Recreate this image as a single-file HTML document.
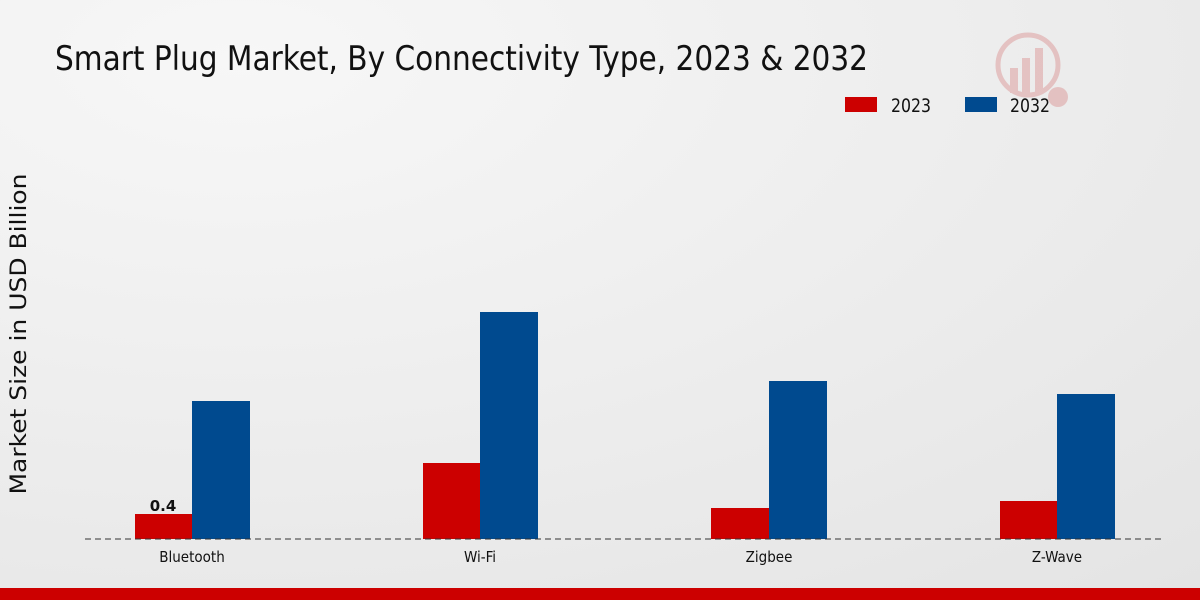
<!DOCTYPE html>
<html><head><style>html,body{margin:0;padding:0;width:1200px;height:600px;overflow:hidden}</style></head>
<body>
<svg width="1200" height="600" xmlns="http://www.w3.org/2000/svg" font-family="'Liberation Sans Narrow','DejaVu Sans Condensed','Liberation Sans',sans-serif">
<defs><radialGradient id="bg" cx="0.2" cy="0.1" r="1.2"><stop offset="0" stop-color="#f7f7f7"/><stop offset="1" stop-color="#e4e4e4"/></radialGradient></defs>
<rect width="1200" height="600" fill="url(#bg)"/>
<text x="55" y="70" font-size="34" fill="#111" textLength="813" lengthAdjust="spacingAndGlyphs">Smart Plug Market, By Connectivity Type, 2023 &amp; 2032</text>
<g opacity="0.25" fill="#c44">
<circle cx="1028" cy="65" r="30" fill="none" stroke="#c44" stroke-width="5"/>
<rect x="1010" y="68" width="8" height="25"/><rect x="1022" y="58" width="8" height="35"/><rect x="1035" y="48" width="8" height="45"/>
<circle cx="1058" cy="97" r="10"/>
</g>
<rect x="845" y="97" width="32" height="15" fill="#cc0000"/>
<text x="891" y="112" font-size="19" fill="#111" textLength="40" lengthAdjust="spacingAndGlyphs">2023</text>
<rect x="965" y="97" width="32" height="15" fill="#004a8f"/>
<text x="1010" y="112" font-size="19" fill="#111" textLength="40" lengthAdjust="spacingAndGlyphs">2032</text>
<text transform="translate(26,334) rotate(-90)" text-anchor="middle" font-size="22" fill="#111" font-family="'DejaVu Sans','Liberation Sans',sans-serif" textLength="321" lengthAdjust="spacingAndGlyphs">Market Size in USD Billion</text>
<g fill="#cc0000">
<rect x="135" y="514" width="57" height="25"/><rect x="423" y="463" width="57" height="76"/><rect x="711" y="508" width="58" height="31"/><rect x="1000" y="501" width="57" height="38"/>
</g>
<g fill="#004a8f">
<rect x="192" y="401" width="58" height="138"/><rect x="480" y="312" width="58" height="227"/><rect x="769" y="381" width="58" height="158"/><rect x="1057" y="394" width="58" height="145"/>
</g>
<line x1="85" y1="539" x2="1165" y2="539" stroke="#333" stroke-width="1" stroke-dasharray="6,4"/>
<text x="163" y="511" font-size="15" font-weight="bold" text-anchor="middle" fill="#111" font-family="'DejaVu Sans',sans-serif">0.4</text>
<g font-size="15" text-anchor="middle" fill="#111">
<text x="192" y="562">Bluetooth</text><text x="480" y="562">Wi-Fi</text><text x="769" y="562">Zigbee</text><text x="1057" y="562">Z-Wave</text>
</g>
<rect x="0" y="588" width="1200" height="12" fill="#cc0000"/>
</svg>
</body></html>
